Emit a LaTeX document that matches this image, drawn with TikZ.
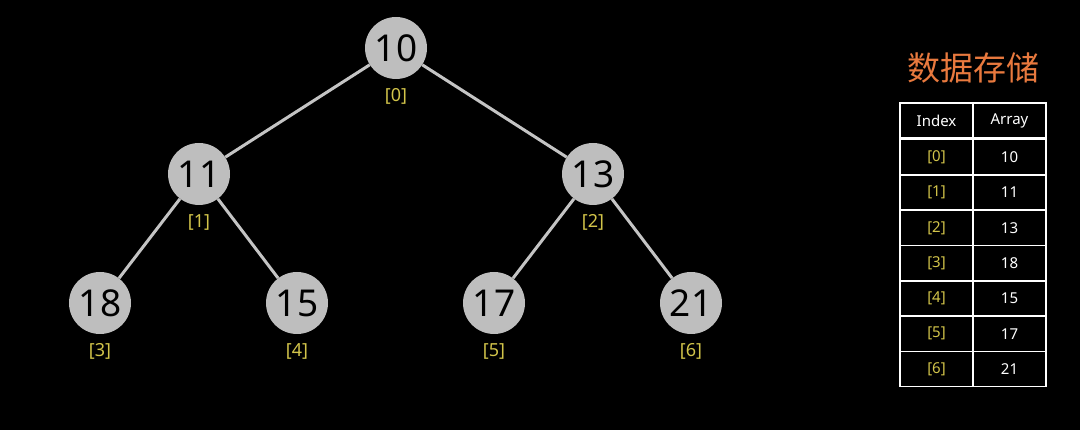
\documentclass[tikz,border=0pt]{standalone}
\usepackage{fontspec}
\setmainfont{Noto Sans}
\newfontfamily\cjk{Noto Sans CJK SC}
\usetikzlibrary{positioning}
\definecolor{nodegray}{HTML}{BEBEBE}
\definecolor{edgegray}{HTML}{C4C4C4}
\definecolor{idxyellow}{HTML}{D2C44A}
\definecolor{titleorange}{HTML}{E8793E}
\tikzset{
  heapnode/.style={circle, fill=nodegray, minimum size=62pt, inner sep=0pt,
    font=\fontsize{37}{40}\selectfont, text=black},
  heapedge/.style={draw=edgegray, line width=3pt},
  idx/.style={font=\fontsize{18}{20}\selectfont, text=idxyellow},
  cell/.style={draw=white, line width=1.5pt, minimum width=73pt,
    minimum height=35.3pt, inner sep=0pt, font=\fontsize{15}{17}\selectfont,
    text=white},
  idxcell/.style={cell, text=idxyellow}
}

\begin{document}
\begin{tikzpicture}[x=1pt,y=-1pt]
  \fill[black] (0,0) rectangle (1080,430);
  \useasboundingbox (0,0) rectangle (1080,430);

  % tree
  \node[heapnode] (n0) at (396,48) {10};
  \node[heapnode] (n1) at (199,174) {11};
  \node[heapnode] (n2) at (593,174) {13};
  \node[heapnode] (n3) at (100,303) {18};
  \node[heapnode] (n4) at (297,303) {15};
  \node[heapnode] (n5) at (494,303) {17};
  \node[heapnode] (n6) at (691,303) {21};

  \draw[heapedge] (n0) -- (n1);
  \draw[heapedge] (n0) -- (n2);
  \draw[heapedge] (n1) -- (n3);
  \draw[heapedge] (n1) -- (n4);
  \draw[heapedge] (n2) -- (n5);
  \draw[heapedge] (n2) -- (n6);

  \foreach \i in {0,...,6}
    \node[idx, below=6pt of n\i] (l\i) {[\i]};

  % storage table
  \node[font=\cjk\fontsize{33}{36}\selectfont, text=titleorange] (title) at (973,68) {数据存储};
  \node[cell] (hi) at (936.5,120.5) {Index};
  \node[cell] (ha) at (1009.5,120.5) {Array};
  \foreach \v [count=\r from 0] in {10,11,13,18,15,17,21} {
    \node[idxcell, below=0pt of hi, yshift=-35.3*\r pt] (i\r) {[\r]};
    \node[cell, below=0pt of ha, yshift=-35.3*\r pt] (a\r) {\v};
  }
\end{tikzpicture}
\end{document}
